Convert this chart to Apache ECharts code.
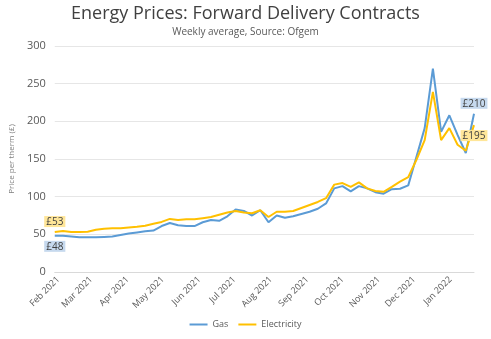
<!DOCTYPE html>
<html>
<head>
<meta charset="utf-8">
<script src="https://cdn.jsdelivr.net/npm/echarts@6/dist/echarts.min.js"></script>
<style>html,body{margin:0;padding:0;background:#fff}#c{width:491px;height:339px}</style>
</head>
<body>
<div id="c"></div>
<script>
var weeks = ["2021-01-29","2021-02-05","2021-02-12","2021-02-19","2021-02-26","2021-03-05","2021-03-12","2021-03-19","2021-03-26","2021-04-02","2021-04-09","2021-04-16","2021-04-23","2021-04-30","2021-05-07","2021-05-14","2021-05-21","2021-05-28","2021-06-04","2021-06-11","2021-06-18","2021-06-25","2021-07-02","2021-07-09","2021-07-16","2021-07-23","2021-07-30","2021-08-06","2021-08-13","2021-08-20","2021-08-27","2021-09-03","2021-09-10","2021-09-17","2021-09-24","2021-10-01","2021-10-08","2021-10-15","2021-10-22","2021-10-29","2021-11-05","2021-11-12","2021-11-19","2021-11-26","2021-12-03","2021-12-10","2021-12-17","2021-12-24","2021-12-31","2022-01-07","2022-01-14","2022-01-21"];
var gas = [48,48,47,46,46,46,46.5,47,49,51,52.5,54,55,61,65,62,61,61,66,69,68,74,83,81,75,82,66,75,72,74,77,80,84,91,111,114,107,114,111,106,104,110,110.5,115,153,191,270,186,208,182,158,210];
var electricity = [53,54.5,53,53,53.5,56,57.5,58,58,59,60,61.5,64,66.5,70.5,69,70,70,71.5,73,76,79,81,79,78,82,73,80,80,81,85,89,93,98,116,118,113,119,111,107.5,106.5,113,120,126,149,175,239,175,191,169,161,195];
var yTicks = [0,50,100,150,200,250,300];
var monthNames = ["Jan","Feb","Mar","Apr","May","Jun","Jul","Aug","Sep","Oct","Nov","Dec"];

function buildSeries(vals, bg, firstPos, lastPos) {
  return vals.map(function (v, i) {
    var item = { value: [weeks[i], v] };
    if (i === 0 || i === vals.length - 1) {
      item.label = {
        show: true,
        position: i === 0 ? firstPos : lastPos,
        distance: 5,
        formatter: '£' + Math.round(v),
        backgroundColor: bg,
        color: '#404040',
        fontFamily: 'Open Sans',
        fontSize: 10,
        padding: [1, 2, 0, 2]
      };
    }
    return item;
  });
}

var chart = echarts.init(document.getElementById('c'));
chart.setOption({
  animation: false,
  title: [
    { text: 'Energy Prices: Forward Delivery Contracts', left: 'center', top: 0,
      textStyle: { fontFamily: 'Open Sans', fontSize: 18, fontWeight: 'normal', color: '#404040' } },
    { text: 'Weekly average, Source: Ofgem', left: 'center', top: 22,
      textStyle: { fontFamily: 'Open Sans', fontSize: 10, fontWeight: 'normal', color: '#595959' } }
  ],
  grid: { left: 52, right: 17, top: 46, bottom: 67 },
  legend: {
    bottom: 5, left: 'center', itemWidth: 18, itemHeight: 2, icon: 'rect', itemGap: 10,
    textStyle: { fontFamily: 'Open Sans', fontSize: 9, color: '#595959' },
    data: ['Gas', 'Electricity']
  },
  xAxis: {
    type: 'time',
    min: '2021-01-29', max: '2022-01-21',
    minInterval: 28 * 86400000, maxInterval: 31 * 86400000,
    axisLine: { show: true, lineStyle: { color: '#d9d9d9' } },
    axisTick: { show: false },
    splitLine: { show: false },
    axisLabel: {
      rotate: 45, margin: 6, fontFamily: 'Open Sans', fontSize: 9, color: '#595959',
      formatter: function (val) {
        var d = new Date(val);
        return monthNames[d.getMonth()] + ' ' + d.getFullYear();
      }
    }
  },
  yAxis: {
    type: 'value', min: yTicks[0], max: yTicks[yTicks.length - 1], interval: 50,
    name: 'Price per therm (£)', nameLocation: 'middle', nameGap: 34,
    nameTextStyle: { fontFamily: 'Open Sans', fontSize: 8, color: '#7f7f7f' },
    axisLine: { show: false }, axisTick: { show: false },
    axisLabel: { margin: 9, fontFamily: 'Open Sans', fontSize: 11, color: '#595959' },
    splitLine: { lineStyle: { color: '#e6e6e6' } }
  },
  series: [
    { name: 'Gas', type: 'line', showSymbol: true, symbol: 'circle', symbolSize: 0,
      lineStyle: { width: 2, color: '#5b9bd5' }, itemStyle: { color: '#5b9bd5' },
      data: buildSeries(gas, '#c6d9ee', 'bottom', 'top') },
    { name: 'Electricity', type: 'line', showSymbol: true, symbol: 'circle', symbolSize: 0,
      lineStyle: { width: 2, color: '#ffc000' }, itemStyle: { color: '#ffc000' },
      data: buildSeries(electricity, '#ffe699', 'top', 'bottom') }
  ]
});
</script>
</body>
</html>
